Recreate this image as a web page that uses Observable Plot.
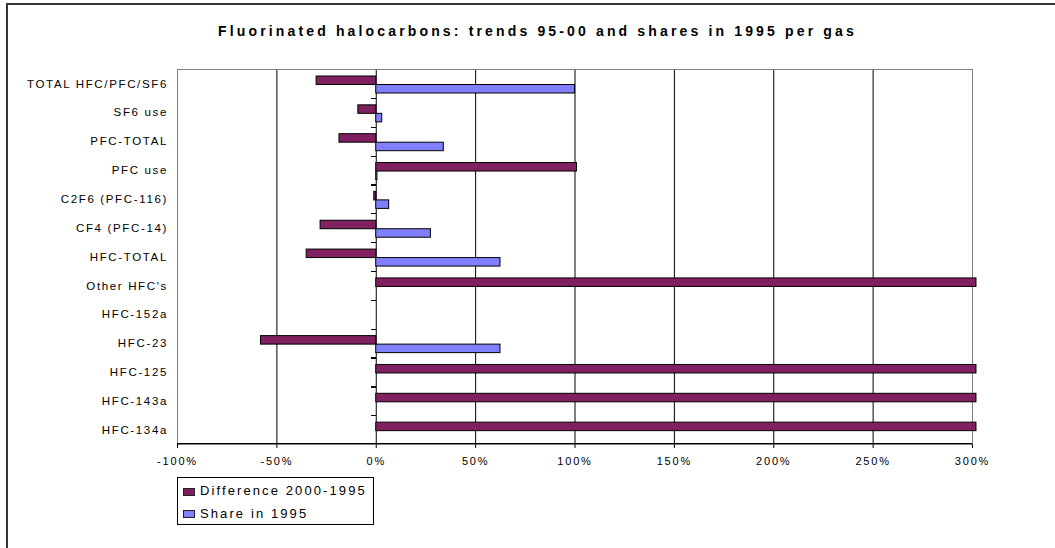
<!DOCTYPE html>
<html>
<head>
<meta charset="utf-8">
<script src="https://cdn.jsdelivr.net/npm/d3@7"></script>
<script src="https://cdn.jsdelivr.net/npm/@observablehq/plot@0.6"></script>
<style>
  body { margin: 0; background: #fff; font-family: "Liberation Sans", Arial, sans-serif; }
  #wrap { position: relative; width: 1055px; height: 548px; overflow: hidden; background: #fff; }
  #border { position: absolute; left: 6px; top: 3px; width: 1200px; height: 700px;
            border-top: 2px solid #333; border-left: 2px solid #333; }
  #chart { position: absolute; left: 0; top: 0; }
  #title { position: absolute; left: 218px; top: 23px; white-space: nowrap;
           font-weight: bold; font-size: 14px; line-height: 16px; letter-spacing: 3.15px; color: #000; }
  #legend { position: absolute; left: 177px; top: 477px; width: 197px; height: 48px;
            box-sizing: border-box; border: 1px solid #000; background: #fff; }
  #legend .sw { position: absolute; left: 5px; width: 12px; height: 8px; box-sizing: border-box; border: 1px solid #222; }
  #legend .lb { position: absolute; left: 22px; font-size: 13px; line-height: 15px; letter-spacing: 2.1px; white-space: nowrap; color: #000; }
  #chart svg g[aria-label="x-axis tick label"] text { letter-spacing: 1.8px; }
  #chart svg g[aria-label="y-axis tick label"] text { letter-spacing: 1.65px; }
</style>
</head>
<body>
<div id="wrap">
  <div id="border"></div>
  <div id="chart"></div>
  <div id="title"></div>
  <div id="legend"></div>
</div>
<script>
// ---- data ----
const titleText = "Fluorinated halocarbons: trends 95-00 and shares in 1995 per gas";
const categories = [
  "TOTAL HFC/PFC/SF6", "SF6 use", "PFC-TOTAL", "PFC use", "C2F6 (PFC-116)",
  "CF4 (PFC-14)", "HFC-TOTAL", "Other HFC's", "HFC-152a", "HFC-23",
  "HFC-125", "HFC-143a", "HFC-134a"
];
// Difference 2000-1995 (fraction); the four 3.02 values run off the 300% axis end in the reference
const difference = [-0.30, -0.09, -0.185, 1.01, -0.01, -0.28, -0.35, 3.02, null, -0.58, 3.02, 3.02, 3.02];
// Share in 1995 (fraction)
const share = [1.00, 0.03, 0.34, 0.006, 0.065, 0.275, 0.625, null, null, 0.625, null, null, null];
const seriesNames = ["Difference 2000-1995", "Share in 1995"];
const seriesColors = ["#802060", "#8080ff"];
const xTicks = [-1, -0.5, 0, 0.5, 1, 1.5, 2, 2.5, 3];

// ---- build ----
const diffRows = categories.map((c, i) => ({category: c, value: difference[i]})).filter(d => d.value != null);
const shareRows = categories.map((c, i) => ({category: c, value: share[i]})).filter(d => d.value != null);

const W = 1055, H = 548, mT = 69, mB = 104, mL = 177, mR = 83;
const bw = (H - mT - mB) / categories.length;

const chart = Plot.plot({
  width: W, height: H,
  marginLeft: mL, marginRight: mR, marginTop: mT, marginBottom: mB,
  x: {domain: [xTicks[0], xTicks[xTicks.length - 1]], label: null},
  y: {domain: categories, padding: 0, round: false, label: null},
  style: {fontFamily: "'Liberation Sans', Arial, sans-serif", background: "transparent", color: "#000", overflow: "visible"},
  marks: [
    Plot.ruleX(xTicks.slice(1, -1), {stroke: "#000", strokeWidth: 1}),
    Plot.frame({stroke: "#808080"}),
    Plot.barX(diffRows, {y: "category", x1: 0, x2: "value", insetTop: 7, insetBottom: bw - 15.5,
      fill: seriesColors[0], stroke: "#000", strokeWidth: 1}),
    Plot.barX(shareRows, {y: "category", x1: 0, x2: "value", insetTop: 15.5, insetBottom: bw - 24,
      fill: seriesColors[1], stroke: "#000", strokeWidth: 1}),
    // category tick marks on the 0% axis
    Plot.barX(categories.slice(1), {y: d => d, x1: -0.022, x2: 0, insetBottom: bw - 1.2, fill: "#000", shapeRendering: "crispEdges"}),
    // value axis line
    Plot.barX(categories.slice(-1), {y: d => d, x1: xTicks[0], x2: xTicks[xTicks.length - 1], insetTop: bw - 1, fill: "#000", shapeRendering: "crispEdges"}),
    Plot.axisX({ticks: xTicks, tickFormat: d => `${Math.round(d * 100)}%`, tickSize: 4, tickPadding: 9, fontSize: 11, label: null}),
    Plot.axisY({tickSize: 0, tickPadding: 9.5, fontSize: 11.5, label: null})
  ]
});
document.getElementById("chart").appendChild(chart);

document.getElementById("title").textContent = titleText;

const legend = document.getElementById("legend");
const swTops = [10, 32], lbTops = [4.5, 27.5];
seriesNames.forEach((name, i) => {
  const sw = document.createElement("div");
  sw.className = "sw";
  sw.style.top = swTops[i] + "px";
  sw.style.background = seriesColors[i];
  legend.appendChild(sw);
  const lb = document.createElement("div");
  lb.className = "lb";
  lb.style.top = lbTops[i] + "px";
  lb.textContent = name;
  legend.appendChild(lb);
});
</script>
</body>
</html>
